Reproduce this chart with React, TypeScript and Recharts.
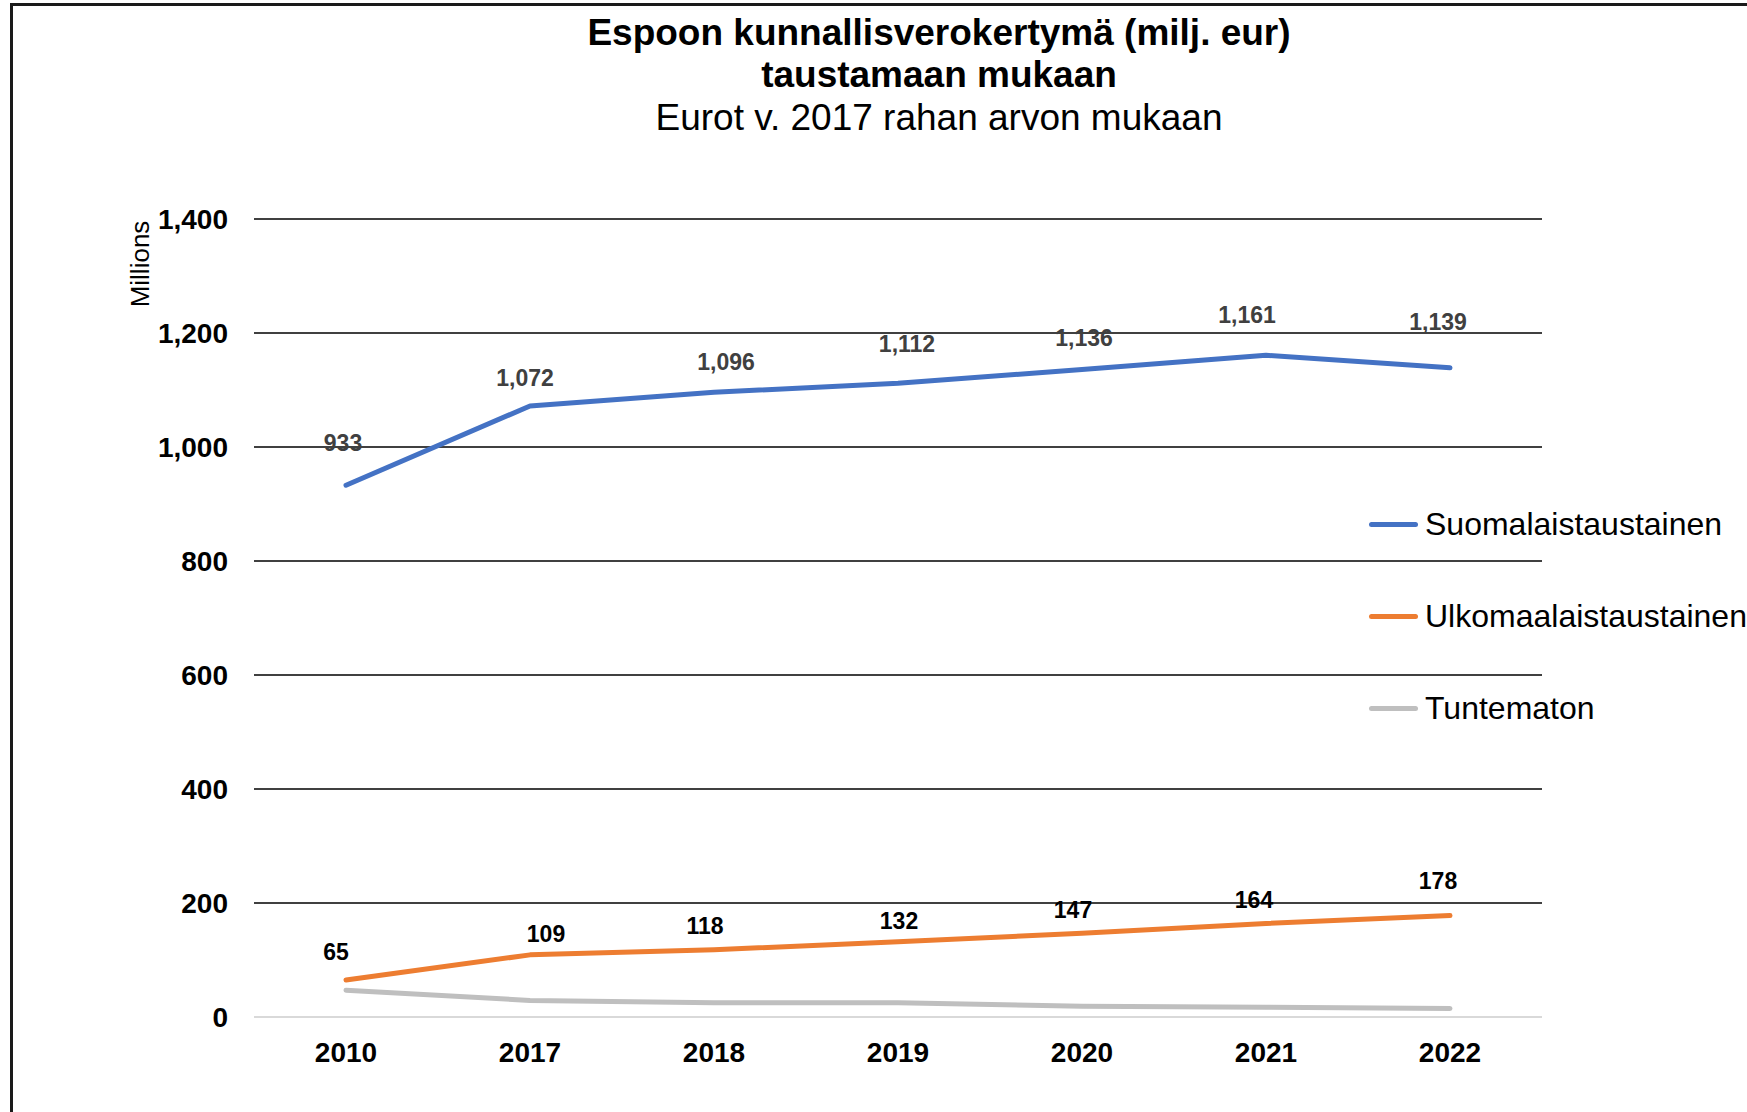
import React from 'react'
import { LineChart, Line, XAxis, YAxis, ReferenceLine, LabelList } from 'recharts'

const years = ['2010', '2017', '2018', '2019', '2020', '2021', '2022']
const suomalais = [933, 1072, 1096, 1112, 1136, 1161, 1139]
const ulkomaalais = [65, 109, 118, 132, 147, 164, 178]
const tuntematon = [47, 29, 25, 25, 19, 17, 15]
const yTicks = [0, 200, 400, 600, 800, 1000, 1200, 1400]

// hand-placed label nudges (dx, dy from the point), as in the original sheet
const blueNudge = [[-3, -42], [-5, -28], [12, -31], [9, -39], [2, -32], [-19, -41], [-12, -46]]
const orangeNudge = [[-10, -28], [16, -21], [-9, -24], [1, -21], [-9, -23], [-12, -24], [-12, -35]]

const series = [
  { key: 'suomalais', name: 'Suomalaistaustainen', color: '#4472C4' },
  { key: 'ulkomaalais', name: 'Ulkomaalaistaustainen', color: '#ED7D31' },
  { key: 'tuntematon', name: 'Tuntematon', color: '#BFBFBF' },
]

const data = years.map((year, i) => ({
  year,
  suomalais: suomalais[i],
  ulkomaalais: ulkomaalais[i],
  tuntematon: tuntematon[i],
}))

const FONT = '"Liberation Sans", Arial, sans-serif'
const fmt = (v: number) => v.toLocaleString('en-US')

function makeLabel(nudge: number[][], fill: string) {
  return (props: any) => {
    const { x, y, value, index } = props
    const [dx, dy] = nudge[index] || [0, -30]
    return (
      <text x={x + dx} y={y + dy} dy="0.36em" textAnchor="middle" fontFamily={FONT}
        fontSize={23} fontWeight="bold" fill={fill}>
        {fmt(value)}
      </text>
    )
  }
}

function YLabel(props: any) {
  const { viewBox } = props
  const cx = viewBox.x - 14
  const cy = viewBox.y + 45
  return (
    <text x={cx} y={cy} transform={`rotate(-90 ${cx} ${cy})`} textAnchor="middle" dy="0.36em"
      fontFamily={FONT} fontSize={26} fill="#000">
      Millions
    </text>
  )
}

export default function App() {
  return (
    <div style={{ position: 'relative', width: 1747, height: 1112, overflow: 'hidden', background: '#fff', fontFamily: FONT }}>
      <style>{'body{margin:0}'}</style>
      <div style={{ position: 'absolute', left: 10, top: 3, width: 1800, height: 1200, borderLeft: '3px solid #1a1a1a', borderTop: '3px solid #1a1a1a' }} />
      <div style={{ position: 'absolute', left: 439, top: 12, width: 1000, textAlign: 'center', lineHeight: '42.3px', fontSize: 37, color: '#000' }}>
        <div style={{ fontWeight: 'bold' }}>Espoon kunnallisverokertymä (milj. eur)</div>
        <div style={{ fontWeight: 'bold' }}>taustamaan mukaan</div>
        <div>Eurot v. 2017 rahan arvon mukaan</div>
      </div>

      <div style={{ position: 'absolute', left: 0, top: 0 }}>
        <LineChart width={1747} height={1112} data={data} margin={{ top: 219, right: 205, bottom: 35, left: 154 }}>
          <XAxis dataKey="year" height={60} padding={{ left: 92, right: 92 }} tickLine={false} tickSize={0} tickMargin={25}
            axisLine={{ stroke: '#D9D9D9', strokeWidth: 2 }}
            tick={{ fontSize: 28, fontWeight: 'bold', fill: '#000', fontFamily: FONT }} />
          <YAxis width={100} domain={[0, 1400]} ticks={yTicks} tickFormatter={fmt} axisLine={false} tickLine={false}
            tickSize={0} tickMargin={26}
            tick={{ fontSize: 28, fontWeight: 'bold', fill: '#000', fontFamily: FONT }}
            label={<YLabel />} />
          {yTicks.filter(v => v > 0).map(v => (
            <ReferenceLine key={v} y={v} stroke="#000" strokeWidth={1.6} />
          ))}
          {series.map(s => (
            <Line key={s.key} type="linear" dataKey={s.key} name={s.name} stroke={s.color} strokeWidth={5}
              strokeLinecap="round" strokeLinejoin="round" dot={false} isAnimationActive={false}>
              {s.key === 'suomalais' && <LabelList dataKey={s.key} content={makeLabel(blueNudge, '#404040')} />}
              {s.key === 'ulkomaalais' && <LabelList dataKey={s.key} content={makeLabel(orangeNudge, '#000')} />}
            </Line>
          ))}
        </LineChart>
      </div>

      <div style={{ position: 'absolute', left: 1369, top: 478, whiteSpace: 'nowrap' }}>
        {series.map(s => (
          <div key={s.key} style={{ display: 'flex', alignItems: 'center', height: 92 }}>
            <div style={{ width: 49, height: 5, borderRadius: 3, background: s.color, marginRight: 7 }} />
            <span style={{ fontSize: 32, color: '#000' }}>{s.name}</span>
          </div>
        ))}
      </div>
    </div>
  )
}
